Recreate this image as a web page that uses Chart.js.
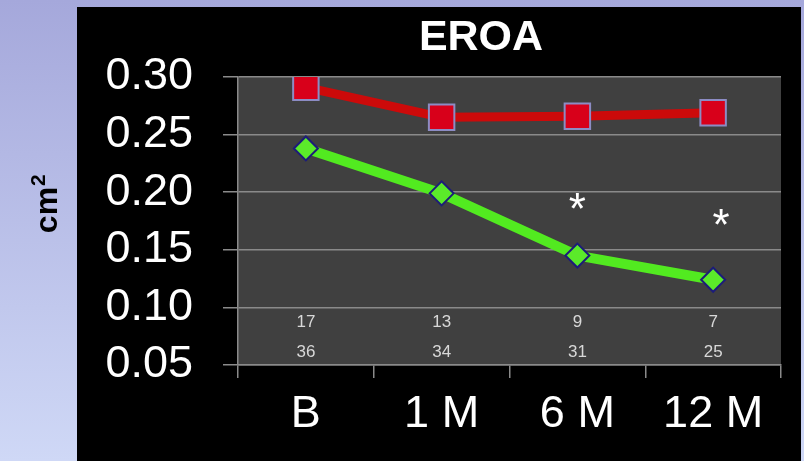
<!DOCTYPE html>
<html>
<head>
<meta charset="utf-8">
<script src="https://cdn.jsdelivr.net/npm/chart.js@4.4.0/dist/chart.umd.min.js"></script>
<style>
  html, body { margin: 0; padding: 0; }
  body {
    width: 804px; height: 461px; overflow: hidden; position: relative;
    background: linear-gradient(#a5a8db, #cfd8f6);
  }
  #panel { position: absolute; left: 77px; top: 7px; width: 724px; height: 454px; background: #000; }
  #wrap { position: absolute; left: 0; top: 0; width: 804px; height: 461px; }
</style>
</head>
<body>
<div id="panel"></div>
<div id="wrap"><canvas id="eroaChart"></canvas></div>
<script>
// data
const categories = ["B", "1 M", "6 M", "12 M"];
const redValues = [0.291, 0.265, 0.266, 0.269];
const greenValues = [0.238, 0.199, 0.145, 0.124];
const countsRow1 = ["17", "13", "9", "7"];
const countsRow2 = ["36", "34", "31", "25"];
const asterisks = [null, null, 0.194, 0.180];
const yTickValues = [0.05, 0.10, 0.15, 0.20, 0.25, 0.30];

const FONT = "'Liberation Sans', Arial, sans-serif";
const GRID = "#8a8a8a";

// plot background, title, axis unit, counts and asterisks
const decor = {
  id: "decor",
  beforeDraw(chart) {
    const { ctx, chartArea: a } = chart;
    ctx.save();
    ctx.fillStyle = "#404040";
    ctx.fillRect(a.left, a.top, a.right - a.left, a.bottom - a.top);
    ctx.restore();
  },
  afterDatasetsDraw(chart) {
    const { ctx, chartArea: a, scales } = chart;
    ctx.save();
    // title
    ctx.fillStyle = "#fff";
    ctx.font = "bold 43px " + FONT;
    ctx.textAlign = "center";
    ctx.textBaseline = "middle";
    ctx.fillText("EROA", 481, 38);

    // cm with superscript 2, rotated
    ctx.save();
    ctx.translate(57, 203);
    ctx.rotate(-Math.PI / 2);
    ctx.fillStyle = "#000";
    ctx.textBaseline = "alphabetic";
    ctx.textAlign = "left";
    ctx.font = "bold 32px " + FONT;
    const w = ctx.measureText("cm").width;
    const total = w + 14;
    ctx.fillText("cm", -total / 2, 0);
    ctx.font = "bold 21px " + FONT;
    ctx.fillText("2", -total / 2 + w + 1, -12);
    ctx.restore();

    // counts
    ctx.fillStyle = "#d8d8d8";
    ctx.font = "17px " + FONT;
    categories.forEach((c, i) => {
      const x = scales.x.getPixelForValue(i);
      ctx.fillText(countsRow1[i], x, a.bottom - 43);
      ctx.fillText(countsRow2[i], x, a.bottom - 13);
    });

    // asterisks
    ctx.fillStyle = "#fff";
    ctx.font = "44px " + FONT;
    ctx.textBaseline = "alphabetic";
    asterisks.forEach((v, i) => {
      if (v == null) return;
      const x = scales.x.getPixelForValue(i);
      const y = scales.y.getPixelForValue(v);
      ctx.fillText("*", x + (i === 3 ? 8 : 0), y + 25);
    });
    ctx.restore();
  },
};

new Chart(document.getElementById("eroaChart"), {
  type: "line",
  data: {
    labels: categories,
    datasets: [
      {
        label: "red",
        data: redValues,
        borderColor: "#cc0a0a",
        borderWidth: 9,
        pointStyle: "rect",
        pointRadius: 18,
        pointBackgroundColor: "#d8001a",
        pointBorderColor: "#8c8cc4",
        pointBorderWidth: 2,
        tension: 0,
      },
      {
        label: "green",
        data: greenValues,
        borderColor: "#52ea20",
        borderWidth: 10,
        pointStyle: "rectRot",
        pointRadius: 12,
        pointBackgroundColor: "#5bea2a",
        pointBorderColor: "#1c1c7a",
        pointBorderWidth: 2,
        tension: 0,
      },
    ],
  },
  options: {
    responsive: true,
    maintainAspectRatio: false,
    animation: false,
    layout: { padding: { top: 77, right: 23, left: 0, bottom: 0 } },
    plugins: {
      legend: { display: false },
      tooltip: { enabled: false },
      title: { display: false },
    },
    scales: {
      x: {
        offset: true,
        grid: { offset: true, drawOnChartArea: false, color: GRID, lineWidth: 1.5, tickLength: 13 },
        border: { color: GRID, width: 1.5 },
        ticks: { color: "#fff", font: { family: FONT, size: 45 }, padding: 10, maxRotation: 0 },
        afterFit: (s) => { s.height = 96; },
      },
      y: {
        min: 0.05,
        max: 0.30,
        afterBuildTicks: (s) => { s.ticks = yTickValues.map((v) => ({ value: v })); },
        grid: { color: GRID, lineWidth: 1.5, tickLength: 15 },
        border: { color: GRID, width: 1.5 },
        ticks: {
          color: "#fff",
          font: { family: FONT, size: 45 },
          padding: 30,
          callback: (v) => Number(v).toFixed(2),
        },
        afterFit: (s) => { s.width = 238; },
      },
    },
  },
  plugins: [decor],
});
</script>
</body>
</html>
